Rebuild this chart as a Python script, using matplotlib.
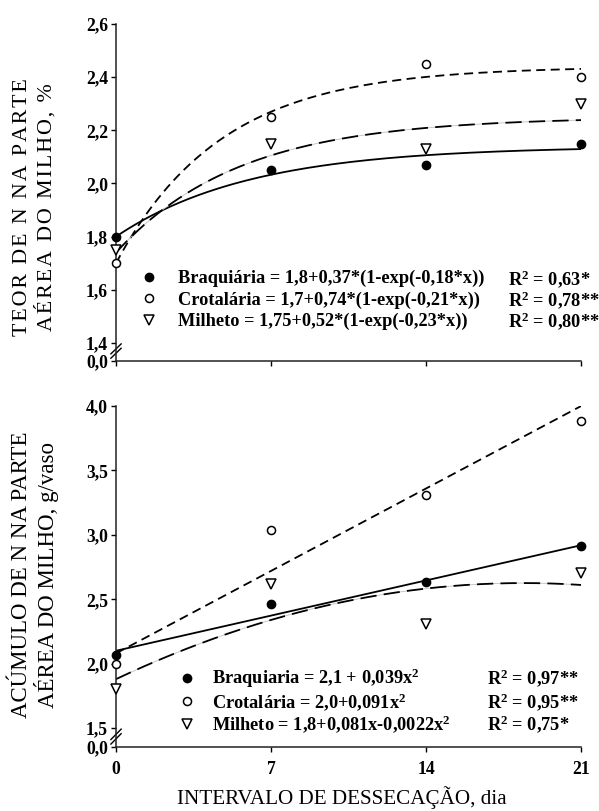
import numpy as np
import matplotlib.pyplot as plt
from matplotlib.lines import Line2D
from matplotlib.transforms import blended_transform_factory

plt.rcParams['font.family'] = ['Liberation Serif', 'DejaVu Serif']
plt.rcParams['mathtext.fontset'] = 'custom'
plt.rcParams['mathtext.rm'] = 'Liberation Serif:bold'
plt.rcParams['mathtext.bf'] = 'Liberation Serif:bold'
plt.rcParams['mathtext.it'] = 'Liberation Serif:bold'

dias = [0, 7, 14, 21]

# teor de N na parte aerea (%)
teor_braq = [1.80, 2.05, 2.07, 2.15]
teor_crot = [1.70, 2.25, 2.45, 2.40]
teor_milh = [1.75, 2.15, 2.13, 2.30]
teor_fit = [[1.80, 0.34, 0.165],
            [1.70, 0.74, 0.21],
            [1.74, 0.51, 0.18]]
teor_eq = ['Braquiária = 1,8+0,37*(1-exp(-0,18*x))',
           'Crotalária = 1,7+0,74*(1-exp(-0,21*x))',
           'Milheto = 1,75+0,52*(1-exp(-0,23*x))']
teor_r2 = ['R$^2$ = 0,63*', 'R$^2$ = 0,78**', 'R$^2$ = 0,80**']
teor_ticks = [1.4, 1.6, 1.8, 2.0, 2.2, 2.4, 2.6]
teor_tlab = ['1,4', '1,6', '1,8', '2,0', '2,2', '2,4', '2,6']

# acumulo de N na parte aerea (g/vaso)
acum_braq = [2.07, 2.46, 2.63, 2.91]
acum_crot = [2.00, 3.04, 3.31, 3.88]
acum_milh = [1.80, 2.62, 2.31, 2.70]
acum_fit = [[2.10, 0.039, 0.0],
            [2.08, 0.0914, 0.0],
            [1.88, 0.081, -0.0022]]
acum_eq = ['Braquiaria = 2,1 + 0,039x$^2$',
           'Crotalária = 2,0+0,091x$^2$',
           'Milheto = 1,8+0,081x-0,0022x$^2$']
acum_r2 = ['R$^2$ = 0,97**', 'R$^2$ = 0,95**', 'R$^2$ = 0,75*']
acum_ticks = [1.5, 2.0, 2.5, 3.0, 3.5, 4.0]
acum_tlab = ['1,5', '2,0', '2,5', '3,0', '3,5', '4,0']

marcas = [dict(marker='o', mfc='black', mec='black', ms=6),
          dict(marker='o', mfc='white', mec='black', ms=5.8, mew=1.1),
          dict(marker='v', mfc='white', mec='black', ms=6.8, mew=1.1)]

fonte_leg = dict(family='Liberation Serif', weight='bold', size=13.2)

fig = plt.figure(figsize=(5.99, 8.11), dpi=100)
ax1 = fig.add_axes([0.1937, 0.5549, 0.7763, 0.4155])
ax2 = fig.add_axes([0.1937, 0.0789, 0.7763, 0.4205])

xx = np.linspace(0, 21, 200)


def desenha_curvas(ax, yy):
    ax.plot(xx, yy[0], color='black', lw=1.3)
    ax.plot(xx, yy[1], color='black', lw=1.3, ls=(0, (5, 3)))
    ax.plot(xx, yy[2], color='#c0c0c0', lw=0.6)
    ax.plot(xx, yy[2], color='black', lw=1.3, ls=(0, (9, 4)))


def eixo(ax, ticks, base, tick_lab):
    ax.set_xlim(0, 21)
    ax.set_ylim(base, ticks[-1])
    ax.spines['top'].set_visible(False)
    ax.spines['right'].set_visible(False)
    for s in ('left', 'bottom'):
        ax.spines[s].set_linewidth(1.1)
        ax.spines[s].set_color('#222222')
    ax.set_xticks(dias)
    ax.set_yticks([base] + ticks)
    ax.set_yticklabels(['0,0'] + tick_lab)
    ax.tick_params(direction='out', length=3.8, width=1, pad=2)
    for lab in ax.get_yticklabels() + ax.get_xticklabels():
        lab.set_fontweight('bold')
        lab.set_fontsize(12.7)
    # quebra do eixo
    tr = blended_transform_factory(ax.transAxes, ax.transData)
    gap = ticks[0] - base
    ymid = ticks[0] - gap * 0.45
    h = gap * 0.55
    for d in (-gap * 0.12, gap * 0.12):
        ax.plot([-0.011, 0.011], [ymid - h / 2 + d, ymid + h / 2 + d],
                color='black', lw=1, transform=tr, clip_on=False)


def legenda(ax, eqs, r2s, anchor, pad, xr, esp):
    hs = [Line2D([], [], ls='none', color='black', **m) for m in marcas]
    leg = ax.legend(hs, eqs, loc='center left', bbox_to_anchor=anchor,
                    frameon=False, prop=fonte_leg,
                    handlelength=1.0, handletextpad=pad, labelspacing=esp,
                    borderpad=0, borderaxespad=0)
    fig.canvas.draw()
    inv = fig.transFigure.inverted()
    x_disp = ax.transAxes.transform((xr, 0))[0]
    for t, r in zip(leg.get_texts(), r2s):
        bb = t.get_window_extent()
        xf, yf = inv.transform((x_disp, (bb.y0 + bb.y1) / 2))
        fig.text(xf, yf, r, ha='left', va='center', **fonte_leg)


def espaca(s):
    # o rotulo do painel de cima aparece com letras mais espacadas
    return '\n'.join('\u200a'.join(linha) for linha in s.split('\n'))


# painel superior
for y, m in zip([teor_braq, teor_crot, teor_milh], marcas):
    ax1.plot(dias, y, ls='none', color='black', clip_on=False, zorder=5, **m)
curvas = [a + b * (1 - np.exp(-c * xx)) for a, b, c in teor_fit]
desenha_curvas(ax1, curvas)
eixo(ax1, teor_ticks, 1.332, teor_tlab)
ax1.set_xticklabels([])

# painel inferior
for y, m in zip([acum_braq, acum_crot, acum_milh], marcas):
    ax2.plot(dias, y, ls='none', color='black', clip_on=False, zorder=5, **m)
curvas = [a + b * xx + c * xx ** 2 for a, b, c in acum_fit]
desenha_curvas(ax2, curvas)
eixo(ax2, acum_ticks, 1.353, acum_tlab)
ax2.set_xticklabels(['0', '7', '14', '21'])
ax2.tick_params(axis='x', pad=6)

legenda(ax1, teor_eq, teor_r2, (0.0516, 0.181), 1.08, 0.843, 0.22)
legenda(ax2, acum_eq, acum_r2, (0.133, 0.135), 0.87, 0.798, 0.03)

fig.text(0.058, 0.745, espaca('TEOR DE N NA PARTE\nAÉREA DO MILHO, %'), rotation=90,
         ha='center', va='center', fontsize=15.8, linespacing=1.15)
fig.text(0.058, 0.291, 'ACÚMULO DE N NA PARTE\nAÉREA DO MILHO, g/vaso', rotation=90,
         ha='center', va='center', fontsize=16.5, linespacing=1.1)
fig.text(0.2955, 0.016, 'INTERVALO DE DESSECAÇÃO, dia', ha='left', va='center',
         fontsize=15.2)

fig.savefig('out.png', dpi=100)
